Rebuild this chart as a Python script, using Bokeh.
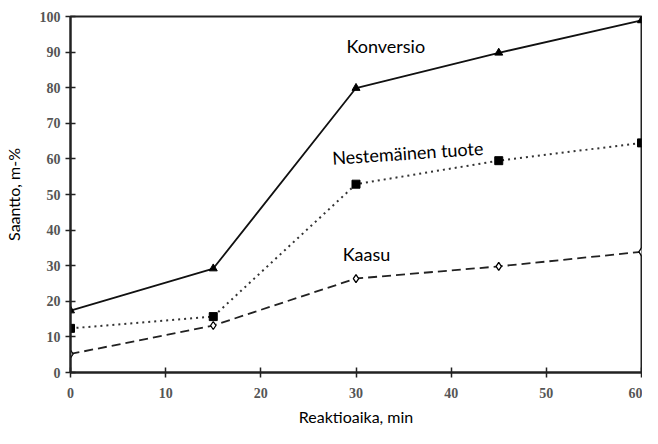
from bokeh.plotting import figure
from bokeh.models import Range1d, Label, FixedTicker
from bokeh.embed import file_html
from bokeh.resources import INLINE
import math

time_min = [0, 15, 30, 45, 60]
konversio = [17.4, 29.2, 79.9, 89.8, 98.9]
neste = [12.4, 15.7, 52.9, 59.5, 64.5]
kaasu = [5.2, 13.2, 26.4, 29.8, 33.9]

x_ticks = [0, 10, 20, 30, 40, 50, 60]
y_ticks = [0, 10, 20, 30, 40, 50, 60, 70, 80, 90, 100]

p = figure(width=642, height=428, output_backend="svg", toolbar_location=None,
           x_range=Range1d(0, 60), y_range=Range1d(0, 100),
           min_border_left=69, min_border_right=1, min_border_top=16, min_border_bottom=50)
p.xgrid.visible = False
p.ygrid.visible = False
p.outline_line_color = "#222222"
p.outline_line_width = 2
p.background_fill_color = "white"
p.border_fill_color = "white"

for ax in (p.xaxis[0], p.yaxis[0]):
    ax.axis_line_color = "#222222"
    ax.axis_line_width = 2
    ax.major_tick_in = 5
    ax.major_tick_out = 5
    ax.major_tick_line_color = "#222222"
    ax.major_tick_line_width = 1.5
    ax.minor_tick_line_color = None
    ax.major_label_text_font = "Liberation Serif"
    ax.major_label_text_font_size = "14px"
    ax.major_label_text_font_style = "bold"
    ax.major_label_text_color = "#555555"
    ax.axis_label_text_font = "Lato"
    ax.axis_label_text_font_size = "16px"
    ax.axis_label_text_font_style = "normal"
    ax.axis_label_text_color = "black"

p.xaxis.ticker = FixedTicker(ticks=x_ticks)
p.yaxis.ticker = FixedTicker(ticks=y_ticks)
p.xaxis.axis_label = "Reaktioaika, min"
p.yaxis.axis_label = "Saantto, m-%"
p.xaxis.major_label_standoff = 10
p.yaxis.major_label_standoff = 5
p.xaxis.axis_label_standoff = 6
p.yaxis.axis_label_standoff = 14

p.line(time_min, konversio, line_color="#111111", line_width=1.8)
p.scatter(time_min, konversio, marker="triangle", size=8, fill_color="black", line_color="black")

p.line(time_min, neste, line_color="#333333", line_width=2, line_dash="2 4")
p.scatter(time_min, neste, marker="square", size=8, fill_color="black", line_color="black")

p.line(time_min, kaasu, line_color="#222222", line_width=1.8, line_dash="9 5")
p.scatter(time_min, kaasu, marker="diamond", size=8, fill_color="white", line_color="black", line_width=1.3)

p.add_layout(Label(x=29.0, y=91.7, text="Konversio", text_font="Lato", text_font_size="18px",
                   text_baseline="middle", text_color="black"))
p.add_layout(Label(x=27.5, y=60.3, text="Nestemäinen tuote", text_font="Lato", text_font_size="18px",
                   text_baseline="middle", text_color="black", angle=3.8 * math.pi / 180))
p.add_layout(Label(x=28.6, y=33.3, text="Kaasu", text_font="Lato", text_font_size="18px",
                   text_baseline="middle", text_color="black"))

open("out.html", "w").write(file_html(p, INLINE))
